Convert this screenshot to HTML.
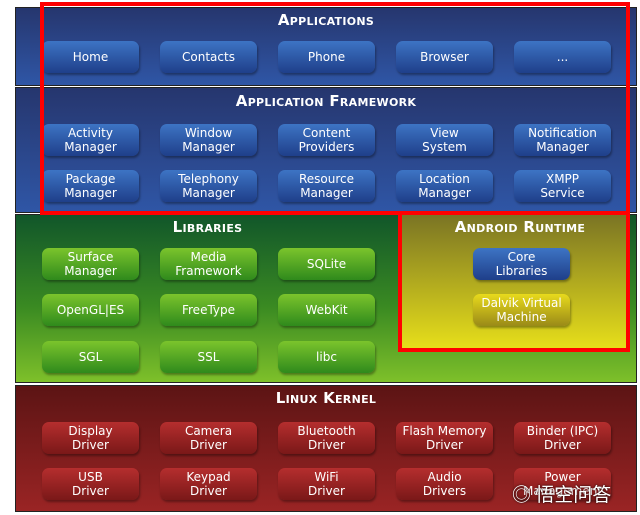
<!DOCTYPE html><html><head><style>
body{margin:0;width:640px;height:515px;background:#fff;position:relative;overflow:hidden;font-family:"DejaVu Sans","Liberation Sans",sans-serif}
.p{position:absolute;border:1px solid #222;box-sizing:border-box}
.t{position:absolute;color:#fff;font-weight:bold;font-variant:small-caps;font-size:15px;text-align:center;letter-spacing:0.3px;font-family:"DejaVu Sans","Liberation Sans",sans-serif}
.b{position:absolute;width:97px;height:32px;border-radius:7px;color:#fff;font-size:12px;line-height:14px;display:flex;align-items:center;justify-content:center;text-align:center;box-shadow:1px 2px 2px rgba(0,0,0,.35)}
.bl{background:linear-gradient(#3d74c4,#1f3f8a)}
.gr{background:linear-gradient(#7bc42c,#2f8a1c)}
.rd{background:linear-gradient(#b52e2e,#7a1818)}
.yl{background:linear-gradient(#e8da1c,#9a8a18)}
.r{position:absolute;border:4px solid #f00;box-sizing:border-box}
</style></head><body>
<div class="p" style="left:15px;top:7px;width:622px;height:79px;background:linear-gradient(#26366e,#2f56a6)"></div>
<div class="p" style="left:15px;top:87px;width:622px;height:126px;background:linear-gradient(#26366e,#2f56a6)"></div>
<div class="p" style="left:15px;top:214px;width:622px;height:169px;background:linear-gradient(#11562a,#3a8a22 55%,#7ec02a)"></div>
<div class="p" style="left:400px;top:214px;width:230px;height:137px;background:linear-gradient(#7a7424,#e8e01a)"></div>
<div class="p" style="left:15px;top:385px;width:622px;height:127px;background:linear-gradient(#5c1414,#9a2424)"></div>
<div class="t" style="left:15px;width:622px;top:11px">Applications</div>
<div class="t" style="left:15px;width:622px;top:92px">Application Framework</div>
<div class="t" style="left:15px;width:385px;top:218px">Libraries</div>
<div class="t" style="left:400px;width:240px;top:218px">Android Runtime</div>
<div class="t" style="left:15px;width:622px;top:389px">Linux Kernel</div>

<div class="b bl" style="left:42px;top:41px">Home</div>
<div class="b bl" style="left:160px;top:41px">Contacts</div>
<div class="b bl" style="left:278px;top:41px">Phone</div>
<div class="b bl" style="left:396px;top:41px">Browser</div>
<div class="b bl" style="left:514px;top:41px">...</div>

<div class="b bl" style="left:42px;top:124px">Activity<br>Manager</div>
<div class="b bl" style="left:160px;top:124px">Window<br>Manager</div>
<div class="b bl" style="left:278px;top:124px">Content<br>Providers</div>
<div class="b bl" style="left:396px;top:124px">View<br>System</div>
<div class="b bl" style="left:514px;top:124px">Notification<br>Manager</div>
<div class="b bl" style="left:42px;top:170px">Package<br>Manager</div>
<div class="b bl" style="left:160px;top:170px">Telephony<br>Manager</div>
<div class="b bl" style="left:278px;top:170px">Resource<br>Manager</div>
<div class="b bl" style="left:396px;top:170px">Location<br>Manager</div>
<div class="b bl" style="left:514px;top:170px">XMPP<br>Service</div>

<div class="b gr" style="left:42px;top:248px">Surface<br>Manager</div>
<div class="b gr" style="left:160px;top:248px">Media<br>Framework</div>
<div class="b gr" style="left:278px;top:248px">SQLite</div>
<div class="b gr" style="left:42px;top:294px">OpenGL|ES</div>
<div class="b gr" style="left:160px;top:294px">FreeType</div>
<div class="b gr" style="left:278px;top:294px">WebKit</div>
<div class="b gr" style="left:42px;top:341px">SGL</div>
<div class="b gr" style="left:160px;top:341px">SSL</div>
<div class="b gr" style="left:278px;top:341px">libc</div>

<div class="b bl" style="left:473px;top:248px">Core<br>Libraries</div>
<div class="b yl" style="left:473px;top:294px">Dalvik Virtual<br>Machine</div>

<div class="b rd" style="left:42px;top:422px">Display<br>Driver</div>
<div class="b rd" style="left:160px;top:422px">Camera<br>Driver</div>
<div class="b rd" style="left:278px;top:422px">Bluetooth<br>Driver</div>
<div class="b rd" style="left:396px;top:422px">Flash Memory<br>Driver</div>
<div class="b rd" style="left:514px;top:422px">Binder (IPC)<br>Driver</div>
<div class="b rd" style="left:42px;top:468px">USB<br>Driver</div>
<div class="b rd" style="left:160px;top:468px">Keypad<br>Driver</div>
<div class="b rd" style="left:278px;top:468px">WiFi<br>Driver</div>
<div class="b rd" style="left:396px;top:468px">Audio<br>Drivers</div>
<div class="b rd" style="left:514px;top:468px">Power<br>Management</div>

<div class="r" style="left:40px;top:2px;width:590px;height:213px"></div>
<div class="r" style="left:398px;top:211px;width:232px;height:141px"></div>
<div style="position:absolute;left:512px;top:480px;color:#fff;font-size:19px;font-family:'Noto Sans CJK SC',sans-serif;text-shadow:0 0 2px #000">◎ 悟空问答</div>
</body></html>
